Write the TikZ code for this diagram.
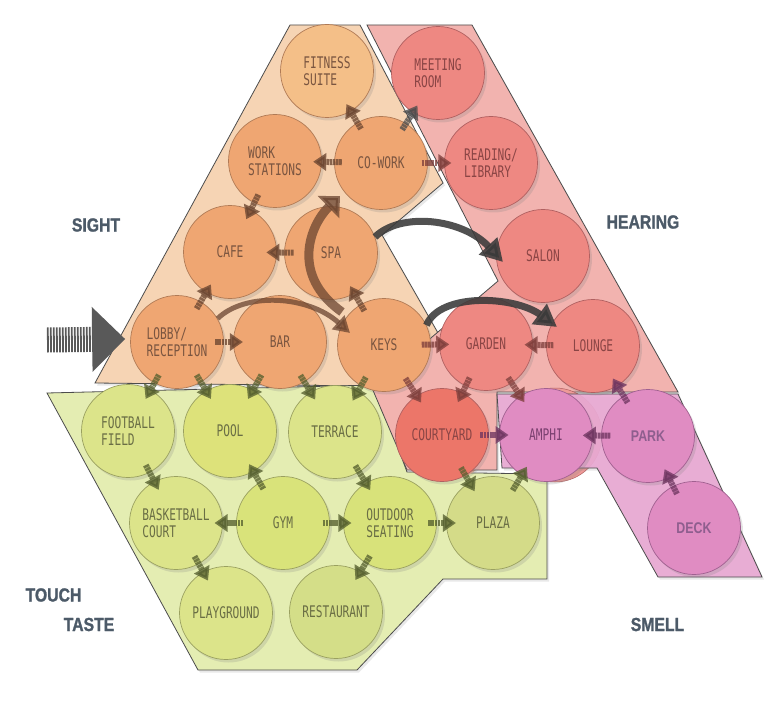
\documentclass[tikz,border=0pt]{standalone}
\usepackage{fontspec}
\usetikzlibrary{arrows.meta,calc,shadows}
\newfontfamily\lblfont[FakeStretch=0.7]{DejaVu Sans Mono}
\newfontfamily\pkfont[FakeStretch=0.8]{Liberation Sans}
\newfontfamily\sensefont[FakeStretch=0.83,FakeBold=1.2]{Liberation Sans}
\definecolor{opoly}{HTML}{F6D4B4}
\definecolor{ocirc}{HTML}{EFA672}
\definecolor{ofit}{HTML}{F4BF88}
\definecolor{oline}{HTML}{B07A55}
\definecolor{otext}{HTML}{7A5540}
\definecolor{ohid}{HTML}{F0A88A}
\definecolor{rpoly}{HTML}{F2B3AF}
\definecolor{rcirc}{HTML}{EE8882}
\definecolor{rcourt}{HTML}{EC7669}
\definecolor{rline}{HTML}{B06060}
\definecolor{rtext}{HTML}{8A4545}
\definecolor{rhid}{HTML}{EE9A98}
\definecolor{gpoly}{HTML}{E4EDB2}
\definecolor{gcirc}{HTML}{DCE48A}
\definecolor{gpool}{HTML}{DDE27A}
\definecolor{ggym}{HTML}{D9E37A}
\definecolor{goutd}{HTML}{D8E27A}
\definecolor{gplaza}{HTML}{D4DB88}
\definecolor{grest}{HTML}{D4DE88}
\definecolor{gline}{HTML}{9AA060}
\definecolor{gtext}{HTML}{6A6E45}
\definecolor{ppoly}{HTML}{E9A9D3}
\definecolor{pcirc}{HTML}{E08CC2}
\definecolor{pline}{HTML}{A06090}
\definecolor{ptext}{HTML}{7A4070}
\definecolor{parkt}{HTML}{8E5E8E}
\definecolor{abrown}{HTML}{6B4530}
\definecolor{ared}{HTML}{7E3F3C}
\definecolor{agreen}{HTML}{56602F}
\definecolor{apink}{HTML}{6E3560}
\definecolor{adark}{HTML}{3A3A3A}
\definecolor{sense}{HTML}{4C5A68}
\tikzset{
  bubble/.style={circle, minimum size=93pt, inner sep=0pt, line width=0.7pt, align=left,
    font=\lblfont\fontsize{16}{16.5}\selectfont,
    drop shadow={opacity=0.22, shadow xshift=2.5pt, shadow yshift=-3pt}},
  obub/.style={bubble, fill=ocirc, draw=oline, text=otext},
  rbub/.style={bubble, fill=rcirc, draw=rline, text=rtext},
  gbub/.style={bubble, fill=gcirc, draw=gline, text=gtext},
  pbub/.style={bubble, fill=pcirc, draw=pline, text=ptext},
  zone/.style={line width=0.8pt, draw=#1,
    drop shadow={opacity=0.18, shadow xshift=2pt, shadow yshift=-2.5pt}},
  sarrow/.style={line width=6pt, -{Triangle[width=17pt,length=13pt]}, opacity=0.78,
    dash pattern=on 2.6pt off 0.6pt},
  curvb/.style={line width=5pt, draw=abrown, opacity=0.75, -{Triangle[width=18pt,length=16pt]}},
  bigarr/.style={line width=9pt, draw=abrown, opacity=0.75, -{Triangle[width=30pt,length=16pt]}},
  darr/.style={line width=7pt, draw=adark, opacity=0.88, -{Triangle[width=24pt,length=22pt]}},
  entryarr/.style={line width=25pt, draw=black!65, dash pattern=on 1.8pt off 1.2pt,
    -{Triangle[width=63pt,length=33pt]}},
  sensel/.style={font=\sensefont\bfseries\fontsize{19}{20}\selectfont, text=sense, inner sep=0pt},
}
\newcommand\sarr[3]{\draw[sarrow,#3] ($(#1)!0.37!(#2)$) -- ($(#1)!0.64!(#2)$);}
\begin{document}
\begin{tikzpicture}[x=1pt,y=-1pt]
\useasboundingbox (0,0) rectangle (775,719);
\fill[white] (0,0) rectangle (775,719);
% zones
\filldraw[zone=black!70, fill=opoly] (95,383) -- (290,25) -- (360,25) -- (443,183) -- (382,235) -- (438,333) -- (375,386) -- cycle;
\filldraw[zone=black!70, fill=gpoly] (47,393) -- (375,385) -- (407,472) -- (547,474) -- (547,579) -- (443,579) -- (357,670) -- (198,670) -- cycle;
\filldraw[fill=ohid, draw=none] (447,433) circle[radius=47];
\filldraw[zone=black!70, fill=rpoly] (367,25) -- (472,25) -- (678,392) -- (497,392) -- (497,470) -- (407,470) -- (372,388) -- (498,281) -- cycle;
\filldraw[fill=rhid, draw=rline, line width=0.5pt] (555,435) circle[radius=47];
\filldraw[zone=black!70, fill=ppoly, fill opacity=0.92] (497,394) -- (678,394) -- (762,577) -- (658,577) -- (597,468) -- (502,468) -- cycle;
% bubbles
\node[obub, fill=ofit] (fit) at (327,71) {FITNESS\\SUITE};
\node[rbub] (meet) at (438,73) {MEETING\\ROOM};
\node[obub] (work) at (275,161) {WORK\\STATIONS};
\node[obub] (cowork) at (381,163) {CO-WORK};
\node[rbub] (read) at (491,163) {READING/\\LIBRARY};
\node[obub] (cafe) at (230,252) {CAFE};
\node[obub] (spa) at (331,253) {SPA};
\node[rbub] (salon) at (543,256) {SALON};
\node[obub] (lobby) at (177,342) {LOBBY/\\RECEPTION};
\node[obub] (bar) at (280,342) {BAR};
\node[obub] (keys) at (384,345) {KEYS};
\node[rbub] (garden) at (486,344) {GARDEN};
\node[rbub] (lounge) at (593,346) {LOUNGE};
\node[gbub] (foot) at (128,431) {FOOTBALL\\FIELD};
\node[gbub, fill=gpool] (pool) at (230,431) {POOL};
\node[gbub] (terr) at (335,432) {TERRACE};
\node[rbub, fill=rcourt] (court) at (442,435) {COURTYARD};
\node[pbub] (amphi) at (546,435) {AMPHI};
\node[pbub, font=\pkfont\bfseries\fontsize{15.5}{16}\selectfont, text=parkt] (park) at (648,436) {PARK};
\node[gbub] (bask) at (176,523) {BASKETBALL\\COURT};
\node[gbub, fill=ggym] (gym) at (283,523) {GYM};
\node[gbub, fill=goutd] (outd) at (390,523) {OUTDOOR\\SEATING};
\node[gbub, fill=gplaza] (plaza) at (493,523) {PLAZA};
\node[pbub, font=\pkfont\bfseries\fontsize{15.5}{16}\selectfont, text=parkt] (deck) at (694,528) {DECK};
\node[gbub] (play) at (226,613) {PLAYGROUND};
\node[gbub, fill=grest] (rest) at (336,612) {RESTAURANT};
% sense labels
\node[sensel] (sight) at (96,225) {SIGHT};
\node[sensel] (hear) at (643,222) {HEARING};
\node[sensel] (touch) at (53.5,595) {TOUCH};
\node[sensel] (taste) at (89,624.5) {TASTE};
\node[sensel] (smell) at (657.5,624.5) {SMELL};
% short arrows
\sarr{cowork}{fit}{abrown}
\sarr{cowork}{meet}{black!70}
\sarr{cowork}{work}{abrown}
\sarr{cowork}{read}{ared}
\sarr{work}{cafe}{abrown}
\sarr{spa}{cafe}{abrown}
\sarr{lobby}{cafe}{abrown}
\sarr{keys}{spa}{abrown}
\sarr{lobby}{bar}{abrown}
\sarr{keys}{garden}{ared}
\sarr{lounge}{garden}{ared}
\sarr{keys}{court}{ared}
\sarr{garden}{court}{ared}
\sarr{garden}{amphi}{ared}
\sarr{park}{lounge}{apink}
\sarr{court}{amphi}{apink}
\sarr{park}{amphi}{apink}
\sarr{deck}{park}{apink}
\sarr{plaza}{amphi}{agreen}
\sarr{lobby}{foot}{agreen}
\sarr{lobby}{pool}{agreen}
\sarr{bar}{pool}{agreen}
\sarr{bar}{terr}{agreen}
\sarr{keys}{terr}{agreen}
\sarr{foot}{bask}{agreen}
\sarr{gym}{pool}{agreen}
\sarr{gym}{bask}{agreen}
\sarr{gym}{outd}{agreen}
\sarr{terr}{outd}{agreen}
\sarr{outd}{plaza}{agreen}
\sarr{court}{plaza}{agreen}
\sarr{bask}{play}{agreen}
\sarr{outd}{rest}{agreen}
% curved arrows
\draw[curvb] (lobby.30) .. controls (245,292) and (308,295) .. ($(keys)+(-34,-12)$);
\coordinate (bigtip) at (340,196);
\draw[bigarr] ($(keys)+(-42,-33)$) .. controls (290,275) and (310,225) .. (bigtip);
\draw[darr] (spa.20) .. controls (400,212) and (462,218) .. ($(salon)+(-40,6)$);
\draw[darr] (keys.25) .. controls (440,292) and (515,296) .. ($(lounge)+(-36,-19)$);
% entry arrow
\coordinate (entry) at (47,340);
\draw[entryarr] (entry) -- ($(lobby.west)+(-5,-3)$);
\end{tikzpicture}
\end{document}
